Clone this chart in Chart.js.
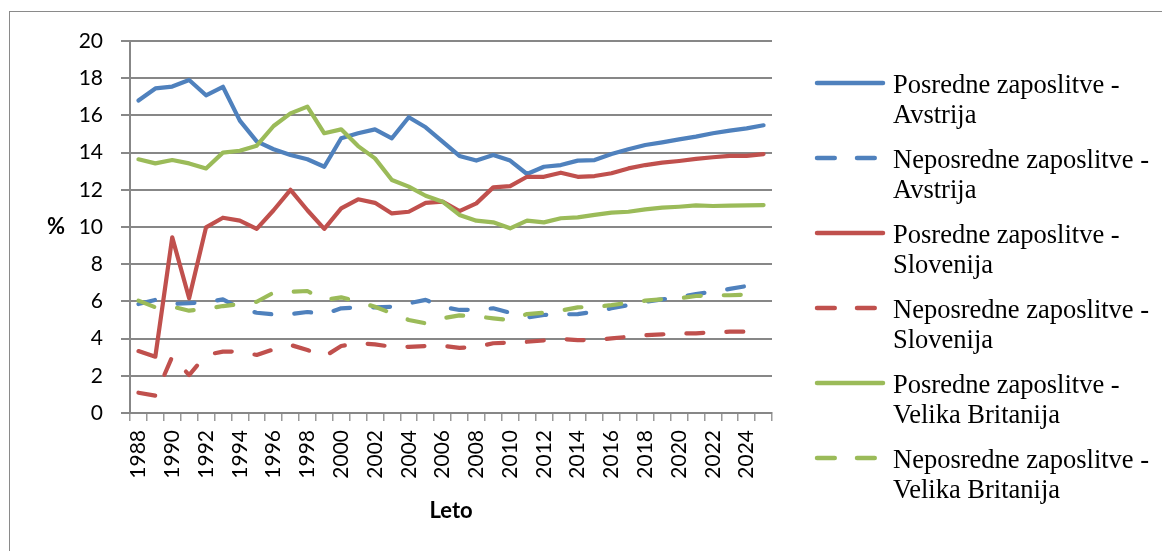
<!DOCTYPE html>
<html>
<head>
<meta charset="utf-8">
<script src="https://cdn.jsdelivr.net/npm/chart.js@4.4.1/dist/chart.umd.min.js"></script>
<style>
  html, body { margin: 0; padding: 0; background: #fff; }
  #wrap { position: relative; width: 1162px; height: 551px; overflow: hidden; }
  #frame { position: absolute; left: 9px; top: 11px; width: 1200px; height: 600px; border: 1px solid #8a8a8a; }
  #chart { position: absolute; left: 0; top: 0; }
  #ylab { position: absolute; left: 47px; top: 212px; font: bold 22px Lato, sans-serif; color: #000; }
  .item { position: absolute; left: 810px; }
  .item svg { position: absolute; left: 0; }
  .item div { position: absolute; left: 83px; width: 270px; font: 26.5px "Liberation Serif", "Times New Roman", serif; line-height: 30px; color: #000; white-space: nowrap; }
</style>
</head>
<body>
<div id="wrap">
  <div id="frame"></div>
  <canvas id="chart" width="1162" height="551"></canvas>
  <div id="ylab">%</div>
  <div id="legend"></div>
</div>
<script>
const years = [];
for (let y = 1988; y <= 2025; y++) years.push(String(y));

const posAvstrija = [16.8, 17.45, 17.55, 17.9, 17.08, 17.54, 15.72, 14.6, 14.18, 13.87,
  13.64, 13.24, 14.77, 15.04, 15.25, 14.77, 15.9, 15.36, 14.59, 13.82,
  13.57, 13.87, 13.57, 12.85, 13.24, 13.33, 13.57, 13.6, 13.92, 14.18,
  14.41, 14.55, 14.71, 14.86, 15.04, 15.18, 15.3, 15.47];
const nepAvstrija = [5.86, 6.08, 5.86, 5.9, 5.95, 6.11, 5.63, 5.39, 5.3, 5.32,
  5.43, 5.32, 5.63, 5.68, 5.68, 5.71, 5.9, 6.08, 5.71, 5.54,
  5.55, 5.63, 5.39, 5.14, 5.27, 5.3, 5.32, 5.45, 5.63, 5.8,
  5.98, 6.11, 6.22, 6.4, 6.52, 6.67, 6.83, 6.95];
const posSlovenija = [3.33, 3.03, 9.44, 6.17, 9.98, 10.5, 10.34, 9.9, 10.9, 12.0,
  10.9, 9.9, 11.0, 11.49, 11.3, 10.73, 10.82, 11.3, 11.36, 10.85,
  11.27, 12.13, 12.2, 12.7, 12.7, 12.92, 12.7, 12.74, 12.89, 13.15,
  13.33, 13.46, 13.55, 13.66, 13.75, 13.82, 13.82, 13.92];
const nepSlovenija = [1.09, 0.93, 3.03, 2.04, 3.12, 3.3, 3.3, 3.12, 3.42, 3.66,
  3.39, 3.03, 3.6, 3.75, 3.69, 3.56, 3.56, 3.6, 3.62, 3.5,
  3.55, 3.75, 3.78, 3.83, 3.9, 3.98, 3.92, 3.92, 4.01, 4.1,
  4.18, 4.23, 4.28, 4.28, 4.34, 4.37, 4.37, 4.4];
const posBritanija = [13.64, 13.42, 13.6, 13.42, 13.15, 14.0, 14.1, 14.37, 15.43, 16.11,
  16.47, 15.04, 15.25, 14.35, 13.69, 12.53, 12.17, 11.68, 11.36, 10.65,
  10.34, 10.25, 9.93, 10.34, 10.25, 10.47, 10.52, 10.65, 10.77, 10.82,
  10.95, 11.04, 11.09, 11.16, 11.13, 11.15, 11.16, 11.18];
const nepBritanija = [6.04, 5.68, 5.72, 5.5, 5.6, 5.75, 5.85, 5.98, 6.47, 6.52,
  6.56, 6.08, 6.22, 5.98, 5.71, 5.36, 5.0, 4.82, 5.09, 5.25,
  5.2, 5.09, 5.0, 5.32, 5.39, 5.5, 5.68, 5.7, 5.8, 5.93,
  6.04, 6.11, 6.17, 6.29, 6.33, 6.33, 6.36, 6.4];

const seriesNames = [
  ['Posredne zaposlitve -', 'Avstrija'],
  ['Neposredne zaposlitve -', 'Avstrija'],
  ['Posredne zaposlitve -', 'Slovenija'],
  ['Neposredne zaposlitve -', 'Slovenija'],
  ['Posredne zaposlitve -', 'Velika Britanija'],
  ['Neposredne zaposlitve -', 'Velika Britanija']
];
const seriesData = [posAvstrija, nepAvstrija, posSlovenija, nepSlovenija, posBritanija, nepBritanija];
const colors = ['#4f81bd', '#4f81bd', '#c0504d', '#c0504d', '#9bbb59', '#9bbb59'];
const dashed = [false, true, false, true, false, true];

const gridGray = '#878787';

const datasets = seriesData.map((d, i) => ({
  label: seriesNames[i].join(' '),
  data: d,
  borderColor: colors[i],
  backgroundColor: colors[i],
  borderWidth: 4.2,
  borderDash: dashed[i] ? [17, 23] : [],
  borderCapStyle: 'round',
  borderJoinStyle: 'round',
  pointRadius: 0,
  tension: 0,
  fill: false,
  order: 6 - i
}));

new Chart(document.getElementById('chart'), {
  type: 'line',
  data: { labels: years, datasets: datasets },
  options: {
    responsive: false,
    animation: false,
    events: [],
    layout: { padding: { left: 0, top: 41, right: 390, bottom: 0 } },
    plugins: { legend: { display: false }, tooltip: { enabled: false } },
    scales: {
      x: {
        offset: true,
        grid: { display: true, drawOnChartArea: false, drawTicks: true, tickLength: 8, offset: true, color: '#9a9a9a', lineWidth: 1.5 },
        border: { display: true, color: gridGray, width: 2 },
        ticks: {
          autoSkip: false, maxRotation: 90, minRotation: 90, padding: 9,
          color: '#000', font: { family: 'Lato', size: 21 },
          callback: function (v, i) { return i % 2 === 0 ? this.getLabelForValue(v) : ''; }
        },
        title: { display: true, text: 'Leto', color: '#000', font: { family: 'Lato', size: 22, weight: 'bold' }, padding: { top: 0, bottom: 27 } },
        afterFit: (s) => { s.height = 138; }
      },
      y: {
        min: 0, max: 20,
        grid: { color: gridGray, lineWidth: 2, tickLength: 9 },
        border: { display: true, color: gridGray, width: 2 },
        ticks: { stepSize: 2, padding: 18, color: '#000', font: { family: 'Lato', size: 21 } },
        afterFit: (s) => { s.width = 130; }
      }
    }
  }
});

// legend on the right, two lines of text per series
const legend = document.getElementById('legend');
seriesNames.forEach((name, i) => {
  const item = document.createElement('div');
  item.className = 'item';
  item.style.top = (69 + 75 * i) + 'px';
  const dash = dashed[i] ? ' stroke-dasharray="17.75 22.25"' : '';
  item.innerHTML =
    '<svg width="80" height="20" style="top:4px"><line x1="7" y1="10" x2="73" y2="10" stroke="' + colors[i] +
    '" stroke-width="4.5" stroke-linecap="round"' + dash + '/></svg>' +
    '<div>' + name[0] + '<br>' + name[1] + '</div>';
  legend.appendChild(item);
});
</script>
</body>
</html>
